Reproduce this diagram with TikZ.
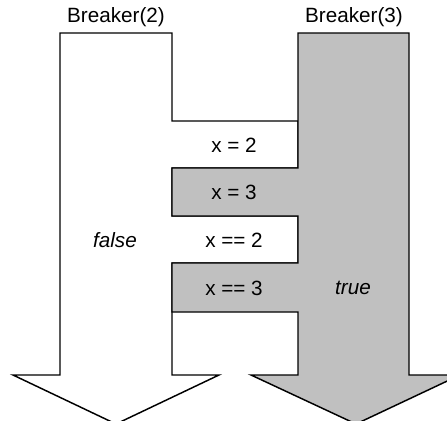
\documentclass[tikz,border=0pt]{standalone}
\usepackage{fontspec}
\setmainfont{Liberation Sans}
\definecolor{shade}{RGB}{192,192,192}
\begin{document}
\begin{tikzpicture}[x=0.75pt,y=-0.75pt,
  outline/.style={draw=black,line width=1.1pt,line join=miter},
  lbl/.style={font=\fontsize{15.5}{18}\selectfont,inner sep=0pt,anchor=center},
  itl/.style={lbl,font=\fontsize{15.5}{18}\selectfont\itshape}]
\useasboundingbox (0,0) rectangle (447,421);
\clip (0,0) rectangle (447,421);
\fill[white] (0,0) rectangle (447,421);
% left (false) arrow
\draw[outline,fill=white] (60,33) -- (172,33) -- (172,121) -- (298,121) -- (298,168)
  -- (172,168) -- (172,216) -- (298,216) -- (298,263) -- (172,263) -- (172,375)
  -- (219,375) -- (116,424) -- (13,375) -- (60,375) -- cycle;
% right (true) arrow
\draw[outline,fill=shade] (298,33) -- (409,33) -- (409,375) -- (460,375) -- (356,424)
  -- (251,375) -- (298,375) -- (298,312) -- (172,312) -- (172,263) -- (298,263)
  -- (298,216) -- (172,216) -- (172,168) -- (298,168) -- cycle;
\node[lbl] (b2) at (116,17) {Breaker(2)};
\node[lbl] (b3) at (354,17) {Breaker(3)};
\node[lbl] (c1) at (234,145) {x = 2};
\node[lbl] (c2) at (234,192) {x = 3};
\node[lbl] (c3) at (234,240) {x == 2};
\node[lbl] (c4) at (234,288) {x == 3};
\node[itl] (f) at (115,240) {false};
\node[itl] (t) at (353,288) {true};
\end{tikzpicture}
\end{document}
